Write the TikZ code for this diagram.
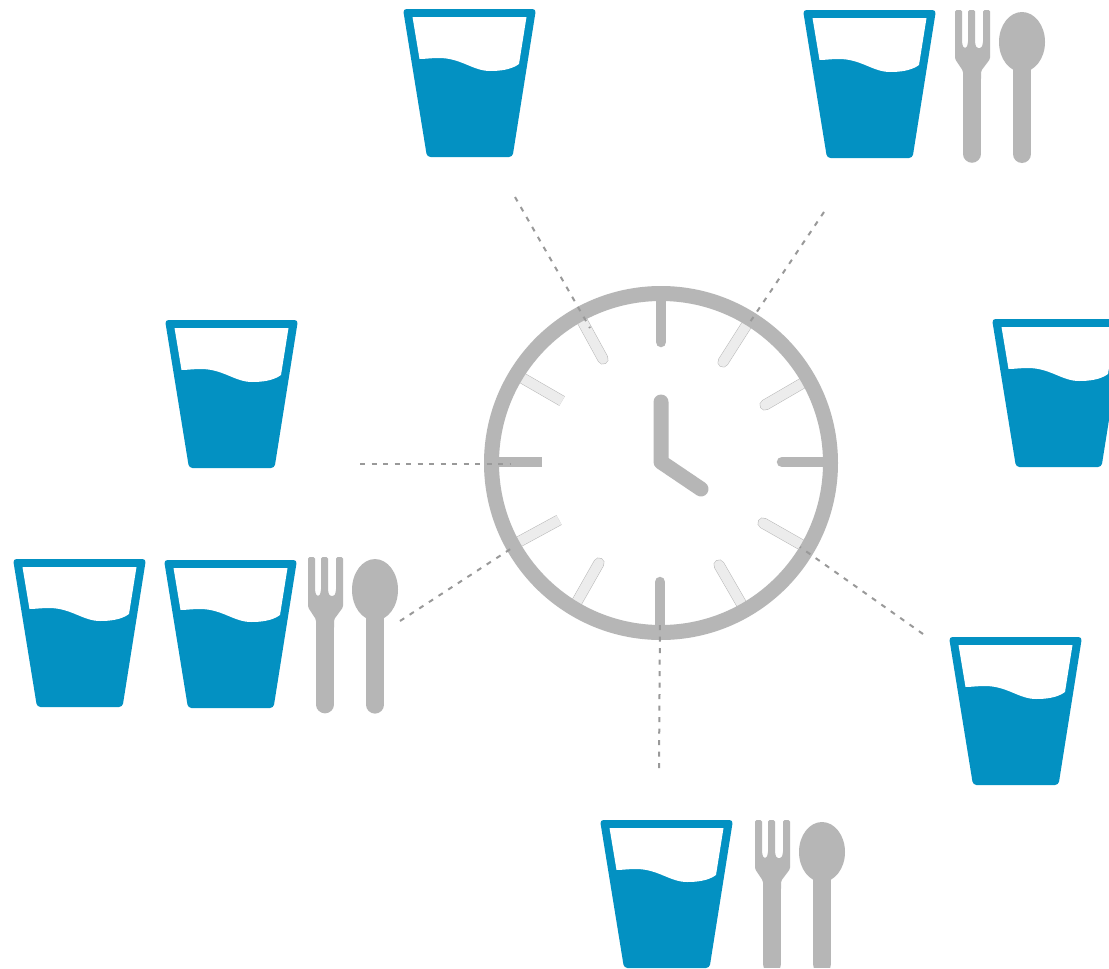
\documentclass[tikz,border=0pt]{standalone}
\definecolor{water}{HTML}{0391C2}
\definecolor{clockgrey}{HTML}{B6B6B6}
\definecolor{lighttick}{HTML}{ECECEC}
\definecolor{dashgrey}{HTML}{999999}
\tikzset{
  x=1pt,y=-1pt,
  glass/.pic={
    \fill[water,rounded corners=3.5] (0,0) -- (133,0) -- (109.5,148) -- (24,148) -- cycle;
    \fill[white] (9.5,8) -- (123.5,8) -- (116,55) .. controls (108,61) and (96,62) .. (87,62)
       .. controls (70,62) and (58,49) .. (36,49) .. controls (28,49) and (22,50) .. (16.5,50) -- cycle;
  },
  cutlery/.pic={
    \fill[clockgrey,rounded corners=1.5]
       (0,0) -- (7,0) -- (7,33) -- (8.5,38) -- (11.5,38) -- (13,33) -- (13,0) -- (20,0) -- (20,33) -- (21.5,38) -- (26.5,38) -- (28,33)
       -- (28,0) -- (35,0) -- (35,49) -- (26,61) -- (26,70) -- (8,70) -- (8,61) -- (0,49) -- cycle;
    \draw[clockgrey,line width=17.5,line cap=round] (17,65) -- (17,144);
    \fill[clockgrey] (67,32) ellipse [x radius=23,y radius=30];
    \draw[clockgrey,line width=18,line cap=round] (67,50) -- (67,144);
  },
  hourtick/.style={clockgrey,line width=10.5,line cap=round},
  flattick/.style={clockgrey,line width=10.5},
  roundminor/.style={line cap=round},
  flatminor/.style={line cap=butt},
  leader/.style={dashgrey,line width=2,dash pattern=on 5pt off 6.5pt},
  handstyle/.style={clockgrey,line width=15,line cap=round,line join=round}
}
\newcommand{\minortickline}[5]{%
  \draw[clockgrey,line width=11,#5] (#1,#2) -- (#3,#4);
  \draw[lighttick,line width=10,#5] (#1,#2) -- (#3,#4);
}
\begin{document}
\begin{tikzpicture}
\useasboundingbox (0,0) rectangle (1109,969);
\clip (0,0) rectangle (1109,969);
\fill[white] (0,0) rectangle (1109,969);

% glasses
\pic at (403,9) {glass};
\pic at (803,10) {glass};
\pic at (165,320) {glass};
\pic at (992,319) {glass};
\pic at (13,559) {glass};
\pic at (164,560) {glass};
\pic at (949,637) {glass};
\pic at (600,820) {glass};

% cutlery
\pic at (955,10) {cutlery};
\pic[yscale=1.025] at (308,557) {cutlery};
\begin{scope}
  \clip (700,800) rectangle (900,967);
  \pic at (755,820) {cutlery};
\end{scope}

% clock minor ticks
\minortickline{751}{318}{723}{362}{roundminor}
\minortickline{808}{380}{765}{405}{roundminor}
\minortickline{807}{548}{763}{523}{roundminor}
\minortickline{745}{610}{719}{565}{roundminor}
\minortickline{574}{607}{599}{563}{roundminor}
\minortickline{513}{545}{559}{520}{flatminor}
\minortickline{517}{375}{562}{401}{flatminor}
\minortickline{580}{317}{603}{359}{roundminor}

% clock face
\node[circle,draw=clockgrey,line width=15,minimum size=339,inner sep=0,outer sep=0] (clock) at (661,463) {};

% hour ticks
\draw[flattick] (661,295) -- (661,330);
\draw[hourtick] (661,330) -- (661,342);
\draw[flattick] (795,462) -- (830,462);
\draw[hourtick] (782,462) -- (795,462);
\draw[hourtick] (660,582) -- (660,600);
\draw[flattick] (660,600) -- (660,630);
\draw[flattick] (495,462) -- (542,462);

% hands
\draw[handstyle] (661,402) -- (661,462) -- (701,489);

% leaders
\coordinate (l1a) at (515,197); \coordinate (l1b) at (590,328);
\coordinate (l2a) at (824,212); \coordinate (l2b) at (748,325);
\coordinate (l3a) at (360,464); \coordinate (l3b) at (510,464);
\coordinate (l4a) at (400,621); \coordinate (l4b) at (512,548);
\coordinate (l5a) at (923,634); \coordinate (l5b) at (800,547);
\coordinate (l6a) at (659,768); \coordinate (l6b) at (660,620);
\draw[leader] (l1a) -- (l1b);
\draw[leader] (l2a) -- (l2b);
\draw[leader] (l3a) -- (l3b);
\draw[leader] (l4a) -- (l4b);
\draw[leader] (l5a) -- (l5b);
\draw[leader] (l6a) -- (l6b);
\end{tikzpicture}
\end{document}
